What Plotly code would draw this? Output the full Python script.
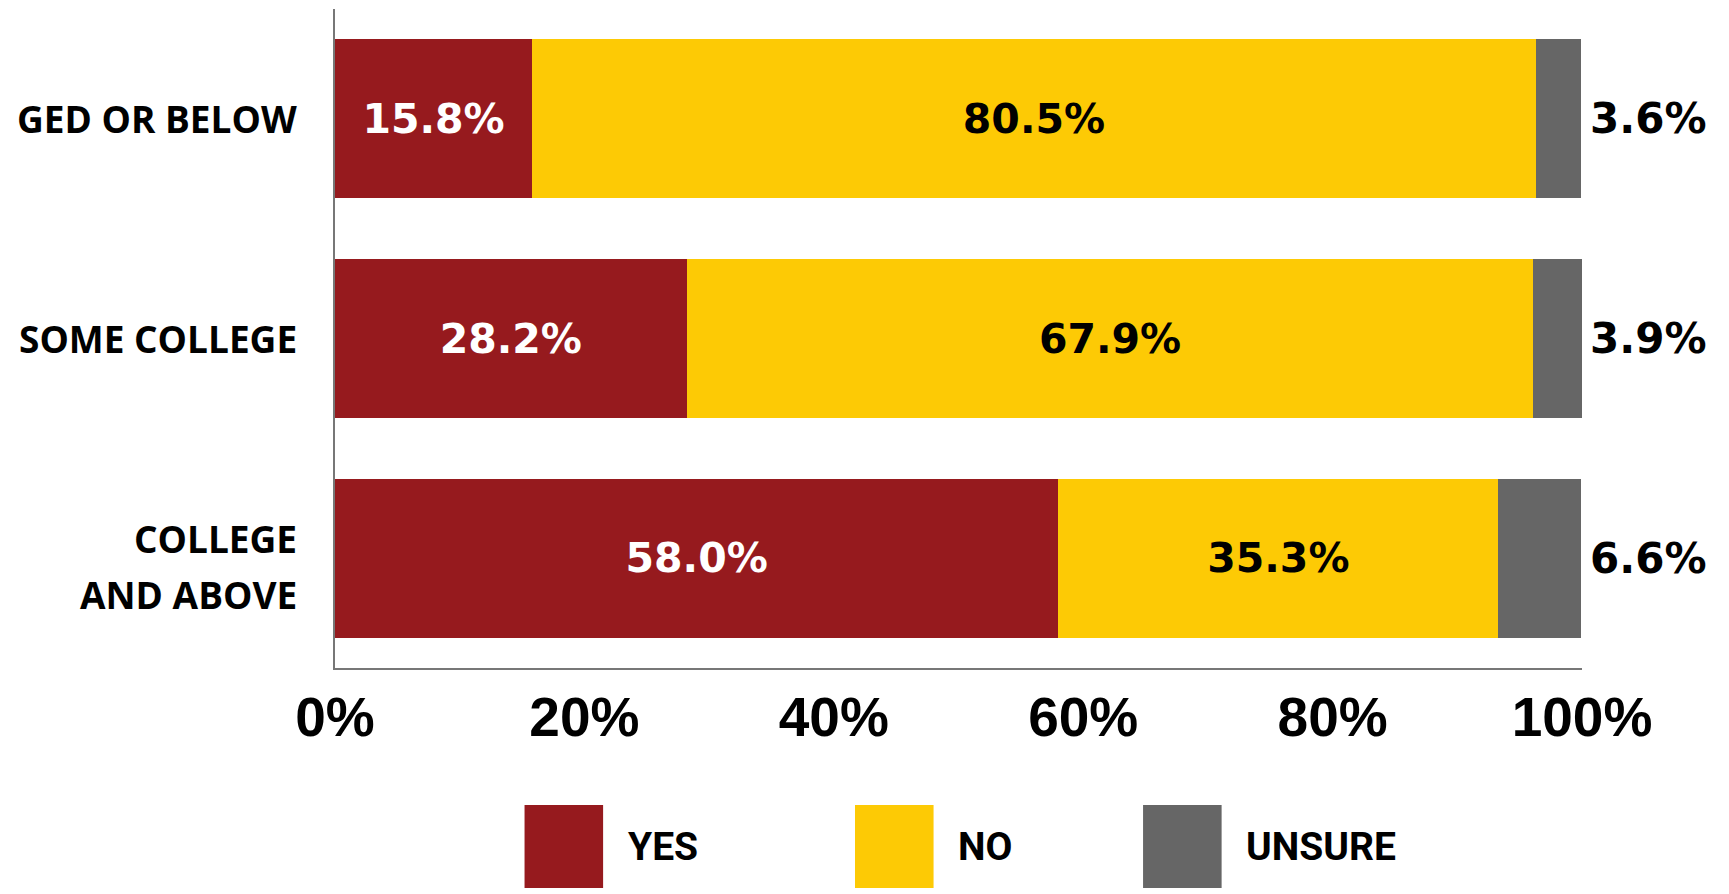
import plotly.graph_objects as go

categories = ["GED OR BELOW", "SOME COLLEGE", "COLLEGE AND ABOVE"]
category_lines = [["GED OR BELOW"], ["SOME COLLEGE"], ["COLLEGE", "AND ABOVE"]]
series_names = ["YES", "NO", "UNSURE"]
yes_vals = [15.8, 28.2, 58.0]
no_vals = [80.5, 67.9, 35.3]
unsure_vals = [3.6, 3.9, 6.6]
tick_vals = [0, 20, 40, 60, 80, 100]
tick_text = ["0%", "20%", "40%", "60%", "80%", "100%"]

colors = ["#961A1E", "#FDCA05", "#666666"]
text_colors = ["white", "black", "rgba(0,0,0,0)"]
series_vals = [yes_vals, no_vals, unsure_vals]

BAR_FONT = "DejaVu Sans"

fig = go.Figure()
for name, vals, col, tcol in zip(series_names, series_vals, colors, text_colors):
    fig.add_trace(go.Bar(
        y=categories, x=vals, name=name, orientation="h",
        marker=dict(color=col, line=dict(width=0)),
        text=[f"{v:.1f}%" for v in vals] if name != "UNSURE" else None,
        textposition="inside", insidetextanchor="middle",
        textfont=dict(family=BAR_FONT, size=41, color=tcol, weight="bold"),
        constraintext="none",
        showlegend=False,
    ))

# outside labels for the UNSURE segment
for cat, v in zip(categories, unsure_vals):
    fig.add_annotation(
        x=100, y=cat, xref="x", yref="y", text=f"{v:.1f}%",
        xanchor="left", yanchor="middle", xshift=6, showarrow=False,
        font=dict(family="DejaVu Sans", size=42, color="black", weight="bold"),
    )

# category labels
for cat, lines in zip(categories, category_lines):
    n = len(lines)
    for i, line in enumerate(lines):
        fig.add_annotation(
            x=0, y=cat, xref="paper", yref="y", text=line,
            xanchor="right", yanchor="middle", xshift=-36,
            yshift=(n - 1) * 20 - i * 56, showarrow=False,
            font=dict(family="Open Sans", size=37, color="black", weight="bold"),
        )

# custom legend
leg_x = [0.152, 0.417, 0.648]
for name, col, lx in zip(series_names, colors, leg_x):
    fig.add_shape(type="rect", xref="paper", yref="paper",
                  x0=lx, x1=lx + 0.063, y0=-0.334, y1=-0.208,
                  fillcolor=col, line=dict(width=0))
    fig.add_annotation(
        x=lx + 0.081, y=-0.271, xref="paper", yref="paper", text=name,
        xanchor="left", yanchor="middle", showarrow=False,
        font=dict(family="Liberation Sans Narrow, Roboto, sans-serif", size=39,
                  color="black", weight="bold"),
    )

fig.update_layout(
    barmode="stack",
    bargap=0.277,
    width=1729, height=894,
    margin=dict(l=335, r=147, t=9, b=226),
    paper_bgcolor="white", plot_bgcolor="white",
    uniformtext=dict(mode=False),
    xaxis=dict(
        range=[0, 100], tickvals=tick_vals, ticktext=tick_text,
        showgrid=False, zeroline=False,
        showline=True, linecolor="#777777", linewidth=2,
        ticks="", ticklabelstandoff=0,
        tickfont=dict(family="Liberation Sans", size=55, color="black", weight="bold"),
        fixedrange=True,
    ),
    yaxis=dict(
        categoryorder="array", categoryarray=categories,
        autorange="reversed",
        showgrid=False, zeroline=False,
        showline=True, linecolor="#777777", linewidth=2,
        ticks="", showticklabels=False,
        fixedrange=True,
    ),
    showlegend=False,
)

fig.write_html("out.html")
